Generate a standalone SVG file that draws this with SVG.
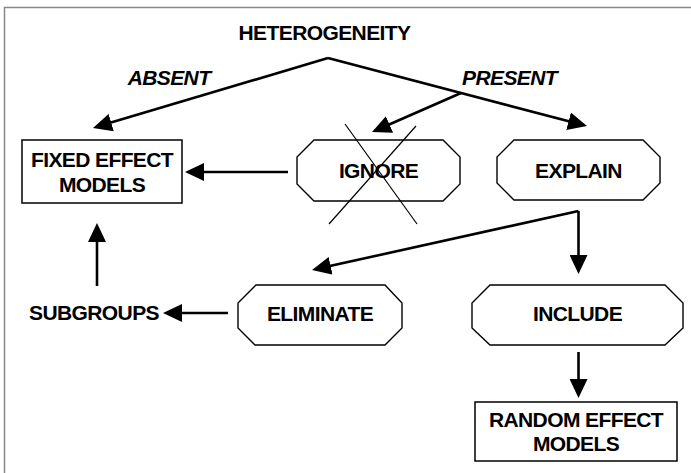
<svg xmlns="http://www.w3.org/2000/svg" width="691" height="473" viewBox="0 0 691 473">
<style>
text{font-family:"Liberation Sans",Arial,Helvetica,sans-serif;font-weight:bold;font-size:21px;letter-spacing:-0.6px;fill:#000;text-anchor:middle}
.it{font-style:italic}
.box{fill:#fff;stroke:#000;stroke-width:1.5}
.oct{fill:#fff;stroke:#000;stroke-width:1.4}
.cx{stroke:#000;stroke-width:1.2;fill:none}
.conn path{fill:none;stroke:#000;stroke-width:2.6;marker-end:url(#ah)}
</style>
<defs>
<marker id="ah" markerUnits="userSpaceOnUse" markerWidth="19" markerHeight="18" refX="9" refY="9" orient="auto" viewBox="0 0 19 18">
<path d="M0,0 L19,9 L0,18 z" fill="#000"/>
</marker>
</defs>
<rect x="4.5" y="7.5" width="700" height="500" fill="#fff" stroke="#888" stroke-width="1.5"/>
<g id="heterogeneity"><text x="324.5" y="40">HETEROGENEITY</text></g>
<g id="label-absent"><text class="it" x="169" y="85">ABSENT</text></g>
<g id="label-present"><text class="it" x="509.5" y="85">PRESENT</text></g>
<g id="fixed"><rect class="box" x="22" y="140" width="160" height="63"/><text x="102" y="167">FIXED EFFECT</text><text x="102" y="192">MODELS</text></g>
<g id="ignore"><polygon class="oct" points="314,140 443,140 460,157 460,184 443,201 314,201 297,184 297,157"/><text x="378.5" y="178">IGNORE</text><line class="cx" x1="345" y1="124" x2="417" y2="224"/><line class="cx" x1="416" y1="126" x2="329" y2="224"/></g>
<g id="explain"><polygon class="oct" points="514,140 643,140 660,157 660,183 643,200 514,200 497,183 497,157"/><text x="578.5" y="178">EXPLAIN</text></g>
<g id="subgroups"><text x="94" y="320">SUBGROUPS</text></g>
<g id="eliminate"><polygon class="oct" points="256,285 385,285 402,303 402,328 385,345 255,345 238,328 238,303"/><text x="320" y="321">ELIMINATE</text></g>
<g id="include"><polygon class="oct" points="490,285 665,285 683,303 683,328 665,345 490,345 472,328 472,303"/><text x="577.5" y="321">INCLUDE</text></g>
<g id="random"><rect class="box" x="475" y="402" width="202" height="59"/><text x="576" y="427">RANDOM EFFECT</text><text x="576" y="451">MODELS</text></g>
<g id="connectors" class="conn">
<path d="M328,58 L102.6,125.1"/>
<path d="M328,58 L577.3,123.5"/>
<path d="M461,93 L381.2,128"/>
<path d="M288,172 L195,172"/>
<path d="M97,286 L97,233"/>
<path d="M228,313 L173,313"/>
<path d="M578.5,211 L321.8,267.8"/>
<path d="M578.5,211 L578.5,264"/>
<path d="M578.5,352 L578.5,388"/>
</g>
</svg>
